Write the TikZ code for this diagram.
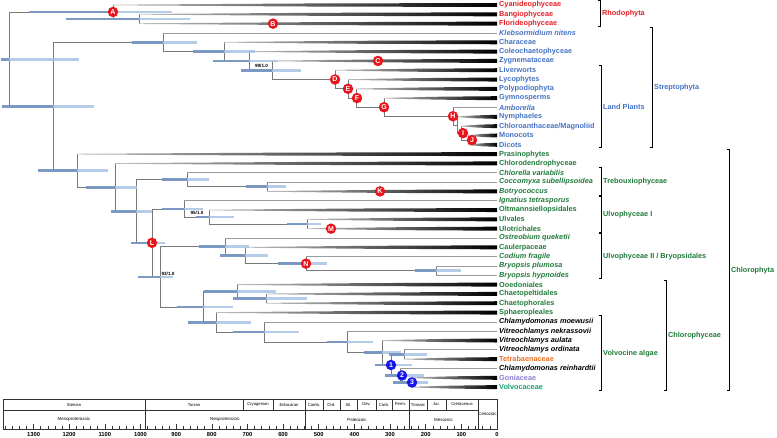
\documentclass[tikz,border=0pt]{standalone}
\usepackage{fontspec}
\setmainfont{Liberation Sans}
\usetikzlibrary{calc}

\definecolor{rhodo}{RGB}{228,30,37}
\definecolor{strep}{RGB}{68,114,196}
\definecolor{chloro}{RGB}{31,122,58}
\definecolor{tetra}{RGB}{237,110,32}
\definecolor{gonia}{RGB}{140,125,210}
\definecolor{volvo}{RGB}{22,160,112}
\definecolor{treegray}{RGB}{120,120,120}
\definecolor{twiggray}{RGB}{155,155,155}
\definecolor{hpdlight}{RGB}{168,195,228}
\definecolor{hpddark}{RGB}{112,142,188}
\definecolor{markred}{RGB}{232,22,28}
\definecolor{markblue}{RGB}{22,22,235}

\tikzset{
  branch/.style={draw=treegray, line width=0.75pt},
  twig/.style={draw=twiggray, line width=0.75pt},
  tip/.style={anchor=west, inner xsep=2pt, inner ysep=0pt,
    font=\fontsize{7.3}{8}\selectfont\bfseries},
  sp/.style={font=\fontsize{7.3}{8}\selectfont\bfseries\itshape},
  grp/.style={anchor=west, inner sep=0pt, font=\fontsize{7.3}{8}\selectfont\bfseries},
  bracket/.style={draw=black, line width=1pt},
  hpdbar/.style={draw=hpdlight, line width=2.6pt, opacity=0.85},
  hpdleft/.style={draw=hpddark, line width=2.6pt, opacity=0.8},
  redmark/.style={circle, fill=markred, inner sep=0pt, minimum size=10.5pt,
    text=white, font=\fontsize{7}{7}\selectfont\bfseries},
  bluemark/.style={redmark, fill=markblue},
  support/.style={inner sep=0pt, font=\fontsize{4.6}{5}\selectfont\bfseries},
  scalebox/.style={draw=black!80, line width=0.5pt},
  period/.style={inner sep=0pt, font=\fontsize{4.2}{5}\selectfont},
  era/.style={inner sep=0pt, font=\fontsize{4.4}{5}\selectfont},
  mya/.style={inner sep=0pt, font=\fontsize{5.8}{6}\selectfont\bfseries}
}

% parent node -> internal node
\newcommand{\branchto}[2]{\draw[branch] (#1) |- (#2);}
% parent node -> single species tip
\newcommand{\leaf}[2]{%
  \draw[branch] (#1) -- (#1 |- #2);
  \draw[twig] (#1 |- #2) -- (#2.west);}
% parent node -> collapsed clade, drawn as a wedge
\newcommand{\cladebar}[2]{%
  \draw[branch] (#1) -- (#1 |- #2);
  \shade[left color=gray!50, middle color=black!85, right color=black]
    let \p1=(#1), \p2=(#2.west), \n1={(\x1+\x2)/2} in
    (\x1,\y2+0.35) -- (\n1,\y2+1.5) -- (\x2,\y2+2) -- (\x2,\y2-2)
    -- (\n1,\y2-1.5) -- (\x1,\y2-0.35) -- cycle;}
% 95% HPD interval round a node
\newcommand{\hpd}[3]{%
  \draw[hpdbar] ([xshift=-#2pt]#1) -- ([xshift=#3pt]#1);
  \draw[hpdleft] ([xshift=-#2pt]#1) -- (#1);}
% bracket and name of a group
\newcommand{\grouplabel}[6]{%
  \draw[bracket] (#2-2.5,#3) -- (#2,#3) -- (#2,#4) -- (#2-2.5,#4);
  \node[grp, text=#5] (#1) at (#2+2,{(#3+#4)/2}) {#6};}

\begin{document}
\begin{tikzpicture}[x=1pt, y=-1pt]
	\useasboundingbox (0,0) rectangle (777,438);

	% tips
	\node[tip, text=rhodo] (t01) at (497,5.00) {Cyanideophyceae};
	\node[tip, text=rhodo] (t02) at (497,14.32) {Bangiophyceae};
	\node[tip, text=rhodo] (t03) at (497,23.64) {Florideophyceae};
	\node[tip, sp, text=strep] (t04) at (497,32.96) {Klebsormidium nitens};
	\node[tip, text=strep] (t05) at (497,42.28) {Characeae};
	\node[tip, text=strep] (t06) at (497,51.60) {Coleochaetophyceae};
	\node[tip, text=strep] (t07) at (497,60.92) {Zygnemataceae};
	\node[tip, text=strep] (t08) at (497,70.24) {Liverworts};
	\node[tip, text=strep] (t09) at (497,79.56) {Lycophytes};
	\node[tip, text=strep] (t10) at (497,88.88) {Polypodiophyta};
	\node[tip, text=strep] (t11) at (497,98.20) {Gymnosperms};
	\node[tip, sp, text=strep] (t12) at (497,107.52) {Amborella};
	\node[tip, text=strep] (t13) at (497,116.84) {Nymphaeles};
	\node[tip, text=strep] (t14) at (497,126.16) {Chloroanthaceae/Magnoliid};
	\node[tip, text=strep] (t15) at (497,135.48) {Monocots};
	\node[tip, text=strep] (t16) at (497,144.80) {Dicots};
	\node[tip, text=chloro] (t17) at (497,154.12) {Prasinophytes};
	\node[tip, text=chloro] (t18) at (497,163.44) {Chlorodendrophyceae};
	\node[tip, sp, text=chloro] (t19) at (497,172.76) {Chlorella variabilis};
	\node[tip, sp, text=chloro] (t20) at (497,182.08) {Coccomyxa subellipsoidea};
	\node[tip, sp, text=chloro] (t21) at (497,191.40) {Botryococcus};
	\node[tip, sp, text=chloro] (t22) at (497,200.72) {Ignatius tetrasporus};
	\node[tip, text=chloro] (t23) at (497,210.04) {Oltmannsiellopsidales};
	\node[tip, text=chloro] (t24) at (497,219.36) {Ulvales};
	\node[tip, text=chloro] (t25) at (497,228.68) {Ulotrichales};
	\node[tip, sp, text=chloro] (t26) at (497,238.00) {Ostreobium queketii};
	\node[tip, text=chloro] (t27) at (497,247.32) {Caulerpaceae};
	\node[tip, sp, text=chloro] (t28) at (497,256.64) {Codium fragile};
	\node[tip, sp, text=chloro] (t29) at (497,265.96) {Bryopsis plumosa};
	\node[tip, sp, text=chloro] (t30) at (497,275.28) {Bryopsis hypnoides};
	\node[tip, text=chloro] (t31) at (497,284.60) {Ooedoniales};
	\node[tip, text=chloro] (t32) at (497,293.92) {Chaetopeltidales};
	\node[tip, text=chloro] (t33) at (497,303.24) {Chaetophorales};
	\node[tip, text=chloro] (t34) at (497,312.56) {Sphaeropleales};
	\node[tip, sp] (t35) at (497,321.88) {Chlamydomonas moewusii};
	\node[tip, sp] (t36) at (497,331.20) {Vitreochlamys nekrassovii};
	\node[tip, sp] (t37) at (497,340.52) {Vitreochlamys aulata};
	\node[tip, sp] (t38) at (497,349.84) {Vitreochlamys ordinata};
	\node[tip, text=tetra] (t39) at (497,359.16) {Tetrabaenaceae};
	\node[tip, sp] (t40) at (497,368.48) {Chlamydomonas reinhardtii};
	\node[tip, text=gonia] (t41) at (497,377.80) {Goniaceae};
	\node[tip, text=volvo] (t42) at (497,387.12) {Volvocaceae};

	% internal nodes, x = age, y = mid of children
	\coordinate (root) at (9,59.25);
	\coordinate (nA) at (113,11.99);
	\coordinate (nBF) at (139,18.98);
	\coordinate (nV) at (53,106.52);
	\coordinate (nSt) at (163,42.28);
	\coordinate (nCh) at (224,51.60);
	\coordinate (nCo) at (249,60.91);
	\coordinate (nZy) at (272,70.22);
	\coordinate (nD) at (335,79.52);
	\coordinate (nE) at (348,88.81);
	\coordinate (nF) at (356,98.06);
	\coordinate (nG) at (384,107.23);
	\coordinate (nH) at (453,116.26);
	\coordinate (nX) at (457,125.00);
	\coordinate (nI) at (461,133.15);
	\coordinate (nJ) at (468,140.14);
	\coordinate (nCl) at (77,170.75);
	\coordinate (nCd) at (115,187.37);
	\coordinate (nUT) at (136,211.30);
	\coordinate (nTr) at (187,179.75);
	\coordinate (nCB) at (267,186.74);
	\coordinate (nL) at (152,242.86);
	\coordinate (nU1) at (184,208.88);
	\coordinate (nOU) at (209,217.03);
	\coordinate (nUU) at (307,224.02);
	\coordinate (nL2) at (160,276.83);
	\coordinate (nU2) at (225,246.74);
	\coordinate (nCa) at (245,255.48);
	\coordinate (nN) at (306,263.63);
	\coordinate (nBr) at (436,270.62);
	\coordinate (nCp) at (203,306.92);
	\coordinate (nOe) at (237,291.59);
	\coordinate (nCC) at (266,298.58);
	\coordinate (nSp) at (216,322.25);
	\coordinate (nCm) at (264,331.93);
	\coordinate (nVn) at (347,341.98);
	\coordinate (nVa) at (382,352.75);
	\coordinate (nZ) at (391,364.99);
	\coordinate (nOT) at (404,354.50);
	\coordinate (nW) at (400,375.47);
	\coordinate (nGV) at (410,382.46);

	% Rhodophyta
	\branchto{root}{nA} \branchto{root}{nV}
	\cladebar{nA}{t01} \branchto{nA}{nBF}
	\cladebar{nBF}{t02} \cladebar{nBF}{t03}

	% Streptophyta
	\branchto{nV}{nSt} \branchto{nV}{nCl}
	\leaf{nSt}{t04} \branchto{nSt}{nCh}
	\cladebar{nCh}{t05} \branchto{nCh}{nCo}
	\cladebar{nCo}{t06} \branchto{nCo}{nZy}
	\cladebar{nZy}{t07} \branchto{nZy}{nD}
	\cladebar{nD}{t08} \branchto{nD}{nE}
	\cladebar{nE}{t09} \branchto{nE}{nF}
	\cladebar{nF}{t10} \branchto{nF}{nG}
	\cladebar{nG}{t11} \branchto{nG}{nH}
	\leaf{nH}{t12} \branchto{nH}{nX}
	\cladebar{nX}{t13} \branchto{nX}{nI}
	\cladebar{nI}{t14} \branchto{nI}{nJ}
	\cladebar{nJ}{t15} \cladebar{nJ}{t16}

	% Chlorophyta
	\cladebar{nCl}{t17} \branchto{nCl}{nCd}
	\cladebar{nCd}{t18} \branchto{nCd}{nUT}
	\branchto{nUT}{nTr} \branchto{nUT}{nL}
	\leaf{nTr}{t19} \branchto{nTr}{nCB}
	\leaf{nCB}{t20} \cladebar{nCB}{t21}
	\branchto{nL}{nU1} \branchto{nL}{nL2}
	\leaf{nU1}{t22} \branchto{nU1}{nOU}
	\cladebar{nOU}{t23} \branchto{nOU}{nUU}
	\cladebar{nUU}{t24} \cladebar{nUU}{t25}
	\branchto{nL2}{nU2} \branchto{nL2}{nCp}
	\leaf{nU2}{t26} \branchto{nU2}{nCa}
	\cladebar{nCa}{t27} \branchto{nCa}{nN}
	\leaf{nN}{t28} \branchto{nN}{nBr}
	\leaf{nBr}{t29} \leaf{nBr}{t30}

	% Chlorophyceae, volvocine algae
	\branchto{nCp}{nOe} \branchto{nCp}{nSp}
	\cladebar{nOe}{t31} \branchto{nOe}{nCC}
	\cladebar{nCC}{t32} \cladebar{nCC}{t33}
	\cladebar{nSp}{t34} \branchto{nSp}{nCm}
	\leaf{nCm}{t35} \branchto{nCm}{nVn}
	\leaf{nVn}{t36} \branchto{nVn}{nVa}
	\cladebar{nVa}{t37} \branchto{nVa}{nZ}
	\branchto{nZ}{nOT} \branchto{nZ}{nW}
	\leaf{nOT}{t38} \cladebar{nOT}{t39}
	\leaf{nW}{t40} \branchto{nW}{nGV}
	\cladebar{nGV}{t41} \cladebar{nGV}{t42}

	% HPD bars
	\foreach \n/\l/\r in {root/8/70, nA/84/59, nBF/73/51, nV/51/41, nSt/31/34,
	    nCh/31/31, nCo/36/29, nZy/31/29, nCl/39/31, nCd/29/22, nUT/25/16,
	    nTr/25/22, nCB/21/19, nL/21/13, nU1/22/19, nOU/13/25, nUU/20/14,
	    nL2/22/13, nU2/26/24, nCa/25/23, nN/28/21, nBr/21/25, nCp/26/30,
	    nOe/33/39, nCC/33/41, nSp/28/35, nCm/31/35, nVn/20/26, nVa/18/19,
	    nZ/16/21, nOT/15/23, nW/15/24, nGV/17/18}
	  {\hpd{\n}{\l}{\r}}

	% support values
	\node[support] (s99) at (261.5,66) {99/1.0};
	\node[support] (s95) at (197,213) {95/1.0};
	\node[support] (s93) at (168,274) {93/1.0};

	% markers
	\node[redmark] (mA) at (nA) {A};
	\node[redmark] (mB) at (273,23.64) {B};
	\node[redmark] (mC) at (378,60.92) {C};
	\node[redmark] (mD) at (nD) {D};
	\node[redmark] (mE) at (nE) {E};
	\node[redmark] (mF) at ([xshift=1pt]nF) {F};
	\node[redmark] (mG) at (nG) {G};
	\node[redmark] (mH) at (nH) {H};
	\node[redmark] (mI) at ([xshift=2pt]nI) {I};
	\node[redmark] (mJ) at ([xshift=4pt]nJ) {J};
	\node[redmark] (mK) at (380,191.40) {K};
	\node[redmark] (mL) at (nL) {L};
	\node[redmark] (mM) at (331,228.68) {M};
	\node[redmark] (mN) at (nN) {N};
	\node[bluemark] (m1) at (nZ) {1};
	\node[bluemark] (m2) at ([xshift=2pt]nW) {2};
	\node[bluemark] (m3) at ([xshift=2pt]nGV) {3};

	% groups
	\grouplabel{gRh}{600}{1}{27}{rhodo}{Rhodophyta}
	\grouplabel{gLP}{601}{66}{148}{strep}{Land Plants}
	\grouplabel{gSt}{652}{28}{148}{strep}{Streptophyta}
	\grouplabel{gTr}{601}{168}{196}{chloro}{Trebouxiophyceae}
	\grouplabel{gU1}{601}{197}{233}{chloro}{Ulvophyceae I}
	\grouplabel{gU2}{601}{234}{279}{chloro}{Ulvophyceae II / Bryopsidales}
	\grouplabel{gVo}{601}{316}{391}{chloro}{Volvocine algae}
	\grouplabel{gCp}{666}{281}{391}{chloro}{Chlorophyceae}
	\grouplabel{gCh}{729}{150}{391}{chloro}{Chlorophyta}

	% geological time scale
	\draw[scalebox] (3,399) rectangle (497,429);
	\draw[scalebox] (3,410) -- (478,410);
	\foreach \x in {243,273,323,340,357,376,392,427,446}
	  \draw[scalebox] (\x,399) -- (\x,410);
	\foreach \x in {145,305,409,478}
	  \draw[scalebox] (\x,399) -- (\x,429);
	\foreach \a/\b/\t [count=\i] in {3/145/Stenian, 145/243/Tonian,
	    243/273/Cryogenian, 273/305/Ediacaran, 305/323/Camb., 323/340/Ord.,
	    340/357/Sil., 357/376/Dev., 376/392/Carb., 392/409/Perm.,
	    409/427/Triassic, 427/446/Jur., 446/478/Cretaceous}
	  \node[period] (per\i) at ({(\a+\b)/2},404.5) {\t};
	\foreach \a/\b/\t [count=\i] in {3/145/Mesoproterozoic,
	    145/305/Neoproterozoic, 305/409/Paleozoic, 409/478/Mesozoic}
	  \node[era] (era\i) at ({(\a+\b)/2},419.5) {\t};
	\node[era] (era5) at (487.5,414) {Cenozoic};

	% axis ticks, Ma
	\foreach \m in {0,20,...,1380}
	  \draw[scalebox] ({497-0.3565*\m},429) -- ++(0,-2.5);
	\foreach \m in {0,100,...,1300} {
	  \draw[scalebox] ({497-0.3565*\m},429) -- ++(0,-5);
	  \node[mya] (ma\m) at ({497-0.3565*\m},434.5) {\m};
	}
\end{tikzpicture}
\end{document}
